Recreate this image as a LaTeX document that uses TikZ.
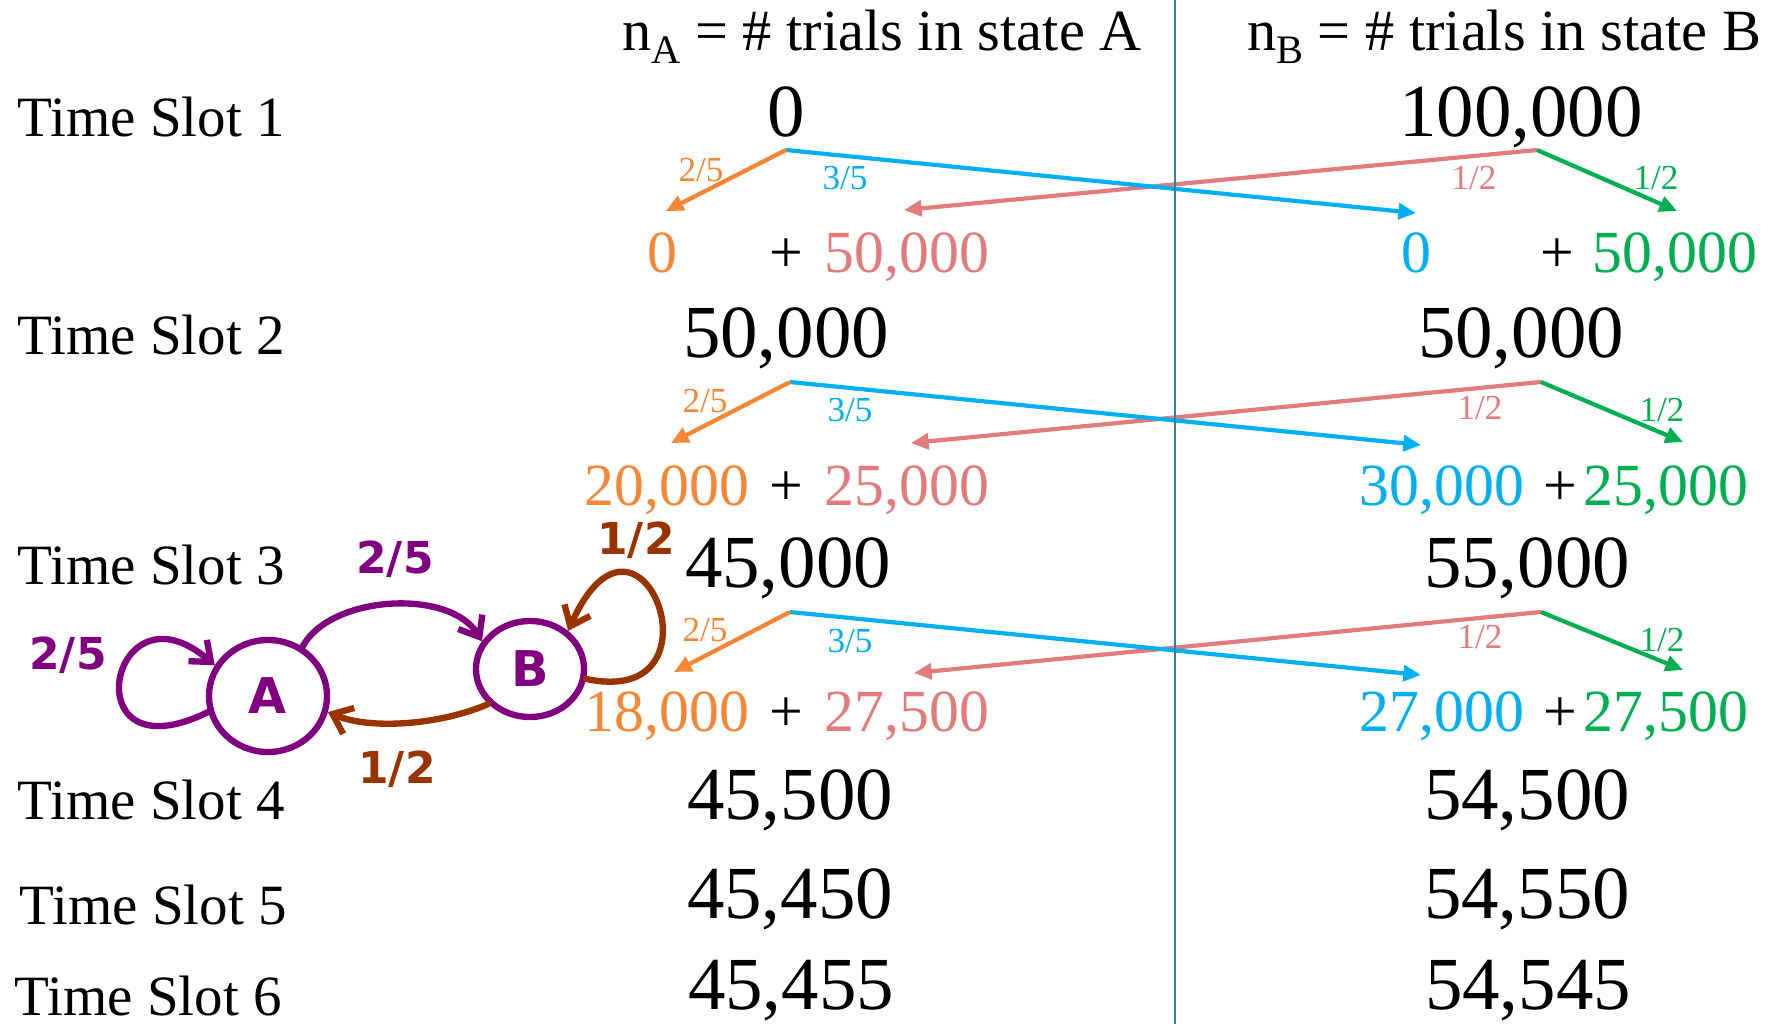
\documentclass[tikz,border=0pt]{standalone}
\usepackage{fontspec}
\setmainfont{Liberation Serif}
\newfontfamily\handfont{DejaVu Sans}
\usetikzlibrary{arrows.meta,shapes.geometric}
\definecolor{corange}{RGB}{245,134,52}
\definecolor{csalmon}{RGB}{226,124,124}
\definecolor{ccyan}{RGB}{0,176,240}
\definecolor{cgreen}{RGB}{0,176,80}
\definecolor{cline}{RGB}{49,132,155}
\definecolor{cpurple}{RGB}{128,0,128}
\definecolor{cbrown}{RGB}{153,51,0}
\tikzset{
  slot/.style={anchor=base west, inner sep=0pt, font=\fontsize{16.2}{18}\selectfont},
  hdr/.style={anchor=base, inner sep=0pt, font=\fontsize{16.6}{18}\selectfont},
  big/.style={anchor=base, inner sep=0pt, font=\fontsize{21.3}{24}\selectfont},
  mid/.style={anchor=base, inner sep=0pt, font=\fontsize{17}{20}\selectfont},
  lab/.style={inner sep=0pt, font=\fontsize{10}{12}\selectfont},
  arr/.style={line width=1.2pt, -{Triangle[length=5pt,width=4.5pt]}},
  hand/.style={line width=1.8pt, line cap=round, line join=round},
  handtip/.style={-{Straight Barb[length=5pt,width=8pt,line width=1.8pt]}},
  handlab/.style={inner sep=0pt, font=\handfont\bfseries\fontsize{12.5}{14}\selectfont},
  state/.style={ellipse, draw=cpurple, hand, inner sep=0pt, text=cpurple, font=\handfont\bfseries\fontsize{14}{16}\selectfont},
}
\begin{document}
\begin{tikzpicture}[x=0.01cm,y=-0.01cm]
\useasboundingbox (0,0) rectangle (1778,1024);

% headers
\node[hdr] (hA) at (882,51) {n\raisebox{-0.45ex}{\fontsize{11.5}{12}\selectfont A} = \# trials in state A};
\node[hdr] (hB) at (1504,51) {n\raisebox{-0.45ex}{\fontsize{11.5}{12}\selectfont B} = \# trials in state B};

% time slot labels
\node[slot] (t1) at (17,136) {Time Slot 1};
\node[slot] (t2) at (17,354) {Time Slot 2};
\node[slot] (t3) at (17,584) {Time Slot 3};
\node[slot] (t4) at (17,819) {Time Slot 4};
\node[slot] (t5) at (19,924) {Time Slot 5};
\node[slot] (t6) at (14,1015) {Time Slot 6};

% main numbers
\node[big] (nA1) at (786,136) {0};
\node[big] (nB1) at (1521,136) {100,000};
\node[big] (nA2) at (786,357) {50,000};
\node[big] (nB2) at (1521,357) {50,000};
\node[big] (nA3) at (788,587) {45,000};
\node[big] (nB3) at (1527,587) {55,000};
\node[big] (nA4) at (790,819) {45,500};
\node[big] (nB4) at (1527,819) {54,500};
\node[big] (nA5) at (790,918) {45,450};
\node[big] (nB5) at (1527,918) {54,550};
\node[big] (nA6) at (791,1009) {45,455};
\node[big] (nB6) at (1528,1009) {54,545};

% intermediate rows
\node[mid, text=corange] (oA1) at (662,272) {0};
\node[mid] (pA1) at (786,272) {+};
\node[mid, text=csalmon] (sA1) at (907,272) {50,000};
\node[mid, text=ccyan] (cB1) at (1416,272) {0};
\node[mid] (pB1) at (1557,272) {+};
\node[mid, text=cgreen] (gB1) at (1675,272) {50,000};

\node[mid, text=corange] (oA2) at (667,505) {20,000};
\node[mid] (pA2) at (786,505) {+};
\node[mid, text=csalmon] (sA2) at (907,505) {25,000};
\node[mid, text=ccyan] (cB2) at (1442,505) {30,000};
\node[mid] (pB2) at (1560,505) {+};
\node[mid, text=cgreen] (gB2) at (1666,505) {25,000};

\node[mid, text=corange] (oA3) at (667,731) {18,000};
\node[mid] (pA3) at (786,731) {+};
\node[mid, text=csalmon] (sA3) at (907,731) {27,500};
\node[mid, text=ccyan] (cB3) at (1442,731) {27,000};
\node[mid] (pB3) at (1560,731) {+};
\node[mid, text=cgreen] (gB3) at (1666,731) {27,500};

% arrow start / end points
\coordinate (as1) at (786,150); \coordinate (bs1) at (1537,150);
\coordinate (to1) at (666,211); \coordinate (tc1) at (1416,213);
\coordinate (ts1) at (904,210); \coordinate (tg1) at (1677,211);
\coordinate (as2) at (790,382); \coordinate (bs2) at (1541,382);
\coordinate (to2) at (671,443); \coordinate (tc2) at (1421,445);
\coordinate (ts2) at (911,443); \coordinate (tg2) at (1683,442);
\coordinate (as3) at (790,612); \coordinate (bs3) at (1541,612);
\coordinate (to3) at (674,672); \coordinate (tc3) at (1421,675);
\coordinate (ts3) at (914,673); \coordinate (tg3) at (1683,670);

\foreach \i in {1,2,3}{
  \draw[arr, csalmon] (bs\i) -- (ts\i);
  \draw[arr, ccyan] (as\i) -- (tc\i);
  \draw[arr, corange] (as\i) -- (to\i);
  \draw[arr, cgreen] (bs\i) -- (tg\i);
}

% arrow labels
\node[lab, text=corange] (l1o) at (701,170) {2/5};
\node[lab, text=ccyan] (l1c) at (845,178) {3/5};
\node[lab, text=csalmon] (l1s) at (1474,178) {1/2};
\node[lab, text=cgreen] (l1g) at (1656,178) {1/2};
\node[lab, text=corange] (l2o) at (705,401) {2/5};
\node[lab, text=ccyan] (l2c) at (850,410) {3/5};
\node[lab, text=csalmon] (l2s) at (1480,408) {1/2};
\node[lab, text=cgreen] (l2g) at (1662,410) {1/2};
\node[lab, text=corange] (l3o) at (705,630) {2/5};
\node[lab, text=ccyan] (l3c) at (850,641) {3/5};
\node[lab, text=csalmon] (l3s) at (1480,637) {1/2};
\node[lab, text=cgreen] (l3g) at (1662,640) {1/2};

% vertical divider
\coordinate (vtop) at (1175,0);
\coordinate (vbot) at (1175,1024);
\draw[cline, line width=0.7pt] (vtop) -- (vbot);

% hand-drawn Markov chain
\node[state, minimum width=1.18cm, minimum height=1.12cm] (A) at (268,696) {A};
\node[state, minimum width=1.08cm, minimum height=0.96cm] (B) at (530,669) {B};

\draw[hand, handtip, cpurple] (A.195) .. controls (70,780) and (110,575) .. (A.150);
\draw[hand, handtip, cpurple] (A.55) .. controls (330,595) and (450,588) .. (B.150);
\draw[hand, handtip, cbrown] (B.220) .. controls (440,725) and (370,730) .. (A.345);
\draw[hand, handtip, cbrown] (B.350) .. controls (730,710) and (640,470) .. (B.45);

\node[handlab, text=cpurple] (h1) at (68,655) {2/5};
\node[handlab, text=cpurple] (h2) at (395,559) {2/5};
\node[handlab, text=cbrown] (h3) at (397,769) {1/2};
\node[handlab, text=cbrown] (h4) at (636,540) {1/2};
\end{tikzpicture}
\end{document}
